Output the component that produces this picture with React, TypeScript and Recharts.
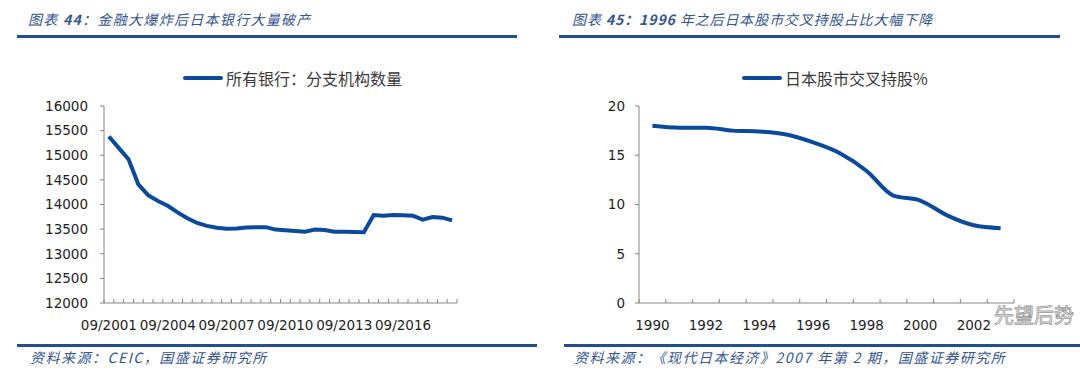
import React from "react";
import { LineChart, Line, XAxis, YAxis } from "recharts";

// Figure 44: number of bank branches, half-yearly
const branchDates = [
  "09/2001", "03/2002", "09/2002", "03/2003", "09/2003", "03/2004",
  "09/2004", "03/2005", "09/2005", "03/2006", "09/2006", "03/2007",
  "09/2007", "03/2008", "09/2008", "03/2009", "09/2009", "03/2010",
  "09/2010", "03/2011", "09/2011", "03/2012", "09/2012", "03/2013",
  "09/2013", "03/2014", "09/2014", "03/2015", "09/2015", "03/2016",
  "09/2016", "03/2017", "09/2017", "03/2018", "09/2018", "03/2019",
];
const branchCounts = [
  15380, 15150, 14920, 14410, 14190, 14070,
  13975, 13840, 13720, 13625, 13565, 13530,
  13510, 13515, 13535, 13540, 13540, 13490,
  13476, 13462, 13449, 13490, 13483, 13449,
  13449, 13442, 13435, 13787, 13773, 13787,
  13780, 13773, 13692, 13746, 13733, 13679,
];
const branchTicks = [12000, 12500, 13000, 13500, 14000, 14500, 15000, 15500, 16000];

// Figure 45: cross-shareholding ratio, yearly
const years = ["1990", "1991", "1992", "1993", "1994", "1995", "1996", "1997", "1998", "1999", "2000", "2001", "2002", "2003"];
const crossHolding = [18.0, 17.8, 17.8, 17.5, 17.4, 17.1, 16.3, 15.2, 13.4, 10.9, 10.4, 8.9, 7.9, 7.6];
const holdingTicks = [0, 5, 10, 15, 20];

const branchData = branchDates.map((d, i) => ({ date: d, value: branchCounts[i] }));
const holdingData = years.map((y, i) => ({ year: y, value: crossHolding[i] }));

const LINE = "#0b4a9a";
const AXIS = "#868686";
const TEXT = "#1e1e1e";
const TICK_FONT = "'DejaVu Sans', Verdana, sans-serif";
const CJK = "'Noto Sans CJK SC', 'Noto Sans', sans-serif";
const TITLE = "#34558f";
const RULE = "#22508f";

// category axis tick: small marks between categories, pointing up, labels every n
const makeTick = (bw: number, every: number, count: number) => (props: any) => {
  const { x, y, payload } = props;
  const idx = props.index ?? payload.index;
  return (
    <g>
      <line x1={x - bw / 2} x2={x - bw / 2} y1={y} y2={y - 4} stroke={AXIS} />
      {idx === count - 1 && <line x1={x + bw / 2} x2={x + bw / 2} y1={y} y2={y - 4} stroke={AXIS} />}
      {idx % every === 0 && (
        <text x={x} y={y + 27} textAnchor="middle" fill={TEXT} fontSize={13.5} fontFamily={TICK_FONT}>
          {payload.value}
        </text>
      )}
    </g>
  );
};

const LegendItem = ({ left, label }: { left: number; label: string }) => (
  <div style={{ position: "absolute", left, top: 67, display: "flex", alignItems: "center", height: 22 }}>
    <div style={{ width: 40, height: 4, background: LINE, borderRadius: 2, marginRight: 3 }} />
    <span style={{ fontFamily: CJK, fontSize: 16, color: "#3a3a3a", whiteSpace: "nowrap" }}>{label}</span>
  </div>
);

const Title = ({ left, spacing, children }: { left: number; spacing: number; children: React.ReactNode }) => (
  <div
    style={{
      position: "absolute",
      left,
      top: 9,
      fontFamily: CJK,
      fontStyle: "italic",
      fontSize: 14,
      letterSpacing: spacing,
      color: TITLE,
      whiteSpace: "nowrap",
    }}
  >
    {children}
  </div>
);

const Rule = ({ left, width, top }: { left: number; width: number; top: number }) => (
  <div style={{ position: "absolute", left, top, width, height: 3, background: RULE }} />
);

const Source = ({ left, children }: { left: number; children: React.ReactNode }) => (
  <div
    style={{
      position: "absolute",
      left,
      top: 347,
      fontFamily: CJK,
      fontStyle: "italic",
      fontSize: 14,
      letterSpacing: 1.5,
      color: TITLE,
      whiteSpace: "nowrap",
    }}
  >
    {children}
  </div>
);

export default function App() {
  const leftPlotW = 353;
  const rightPlotW = 375;
  return (
    <div style={{ position: "absolute", left: 0, top: 0, width: 1080, height: 374, background: "#fff", overflow: "hidden" }}>
      <Title left={28} spacing={1.3}>
        图表 <b>44</b>：金融大爆炸后日本银行大量破产
      </Title>
      <Title left={572} spacing={0.9}>
        图表 <b>45：1996</b> 年之后日本股市交叉持股占比大幅下降
      </Title>
      <Rule left={17} width={500} top={35} />
      <Rule left={559} width={501} top={35} />

      <LegendItem left={183} label="所有银行：分支机构数量" />
      <LegendItem left={742} label="日本股市交叉持股%" />

      <div style={{ position: "absolute", left: 0, top: 0 }}>
        <LineChart width={540} height={374} data={branchData} margin={{ top: 106, right: 83, bottom: 0, left: 0 }}>
          <XAxis
            dataKey="date"
            scale="band"
            interval={0}
            height={71}
            tickSize={0}
            tickMargin={0}
            tickLine={false}
            axisLine={{ stroke: AXIS }}
            tick={makeTick(leftPlotW / branchDates.length, 6, branchDates.length)}
          />
          <YAxis
            width={104}
            domain={[12000, 16000]}
            ticks={branchTicks}
            interval={0}
            tickSize={4}
            tickMargin={12}
            axisLine={{ stroke: AXIS }}
            tickLine={{ stroke: AXIS }}
            tick={{ fill: TEXT, fontSize: 13.5, fontFamily: TICK_FONT }}
          />
          <Line
            dataKey="value"
            type="linear"
            stroke={LINE}
            strokeWidth={4}
            dot={false}
            isAnimationActive={false}
          />
        </LineChart>
      </div>

      <div style={{ position: "absolute", left: 540, top: 0 }}>
        <LineChart width={540} height={374} data={holdingData} margin={{ top: 106, right: 66, bottom: 0, left: 0 }}>
          <XAxis
            dataKey="year"
            scale="band"
            interval={0}
            height={71}
            tickSize={0}
            tickMargin={0}
            tickLine={false}
            axisLine={{ stroke: AXIS }}
            tick={makeTick(rightPlotW / years.length, 2, years.length)}
          />
          <YAxis
            width={99}
            domain={[0, 20]}
            ticks={holdingTicks}
            interval={0}
            tickSize={4}
            tickMargin={10}
            axisLine={{ stroke: AXIS }}
            tickLine={{ stroke: AXIS }}
            tick={{ fill: TEXT, fontSize: 13.5, fontFamily: TICK_FONT }}
          />
          <Line
            dataKey="value"
            type="monotone"
            stroke={LINE}
            strokeWidth={4}
            dot={false}
            isAnimationActive={false}
          />
        </LineChart>
      </div>

      <div
        style={{
          position: "absolute",
          left: 994,
          top: 300,
          fontFamily: CJK,
          fontSize: 20,
          color: "rgba(255,255,255,0.75)",
          WebkitTextStroke: "0.8px #9a9a9a",
          whiteSpace: "nowrap",
        }}
      >
        先望后势
      </div>

      <Rule left={17} width={520} top={344} />
      <Rule left={564} width={516} top={344} />
      <Source left={30}>资料来源：CEIC，国盛证券研究所</Source>
      <Source left={574}>资料来源：《现代日本经济》2007 年第 2 期，国盛证券研究所</Source>
    </div>
  );
}
